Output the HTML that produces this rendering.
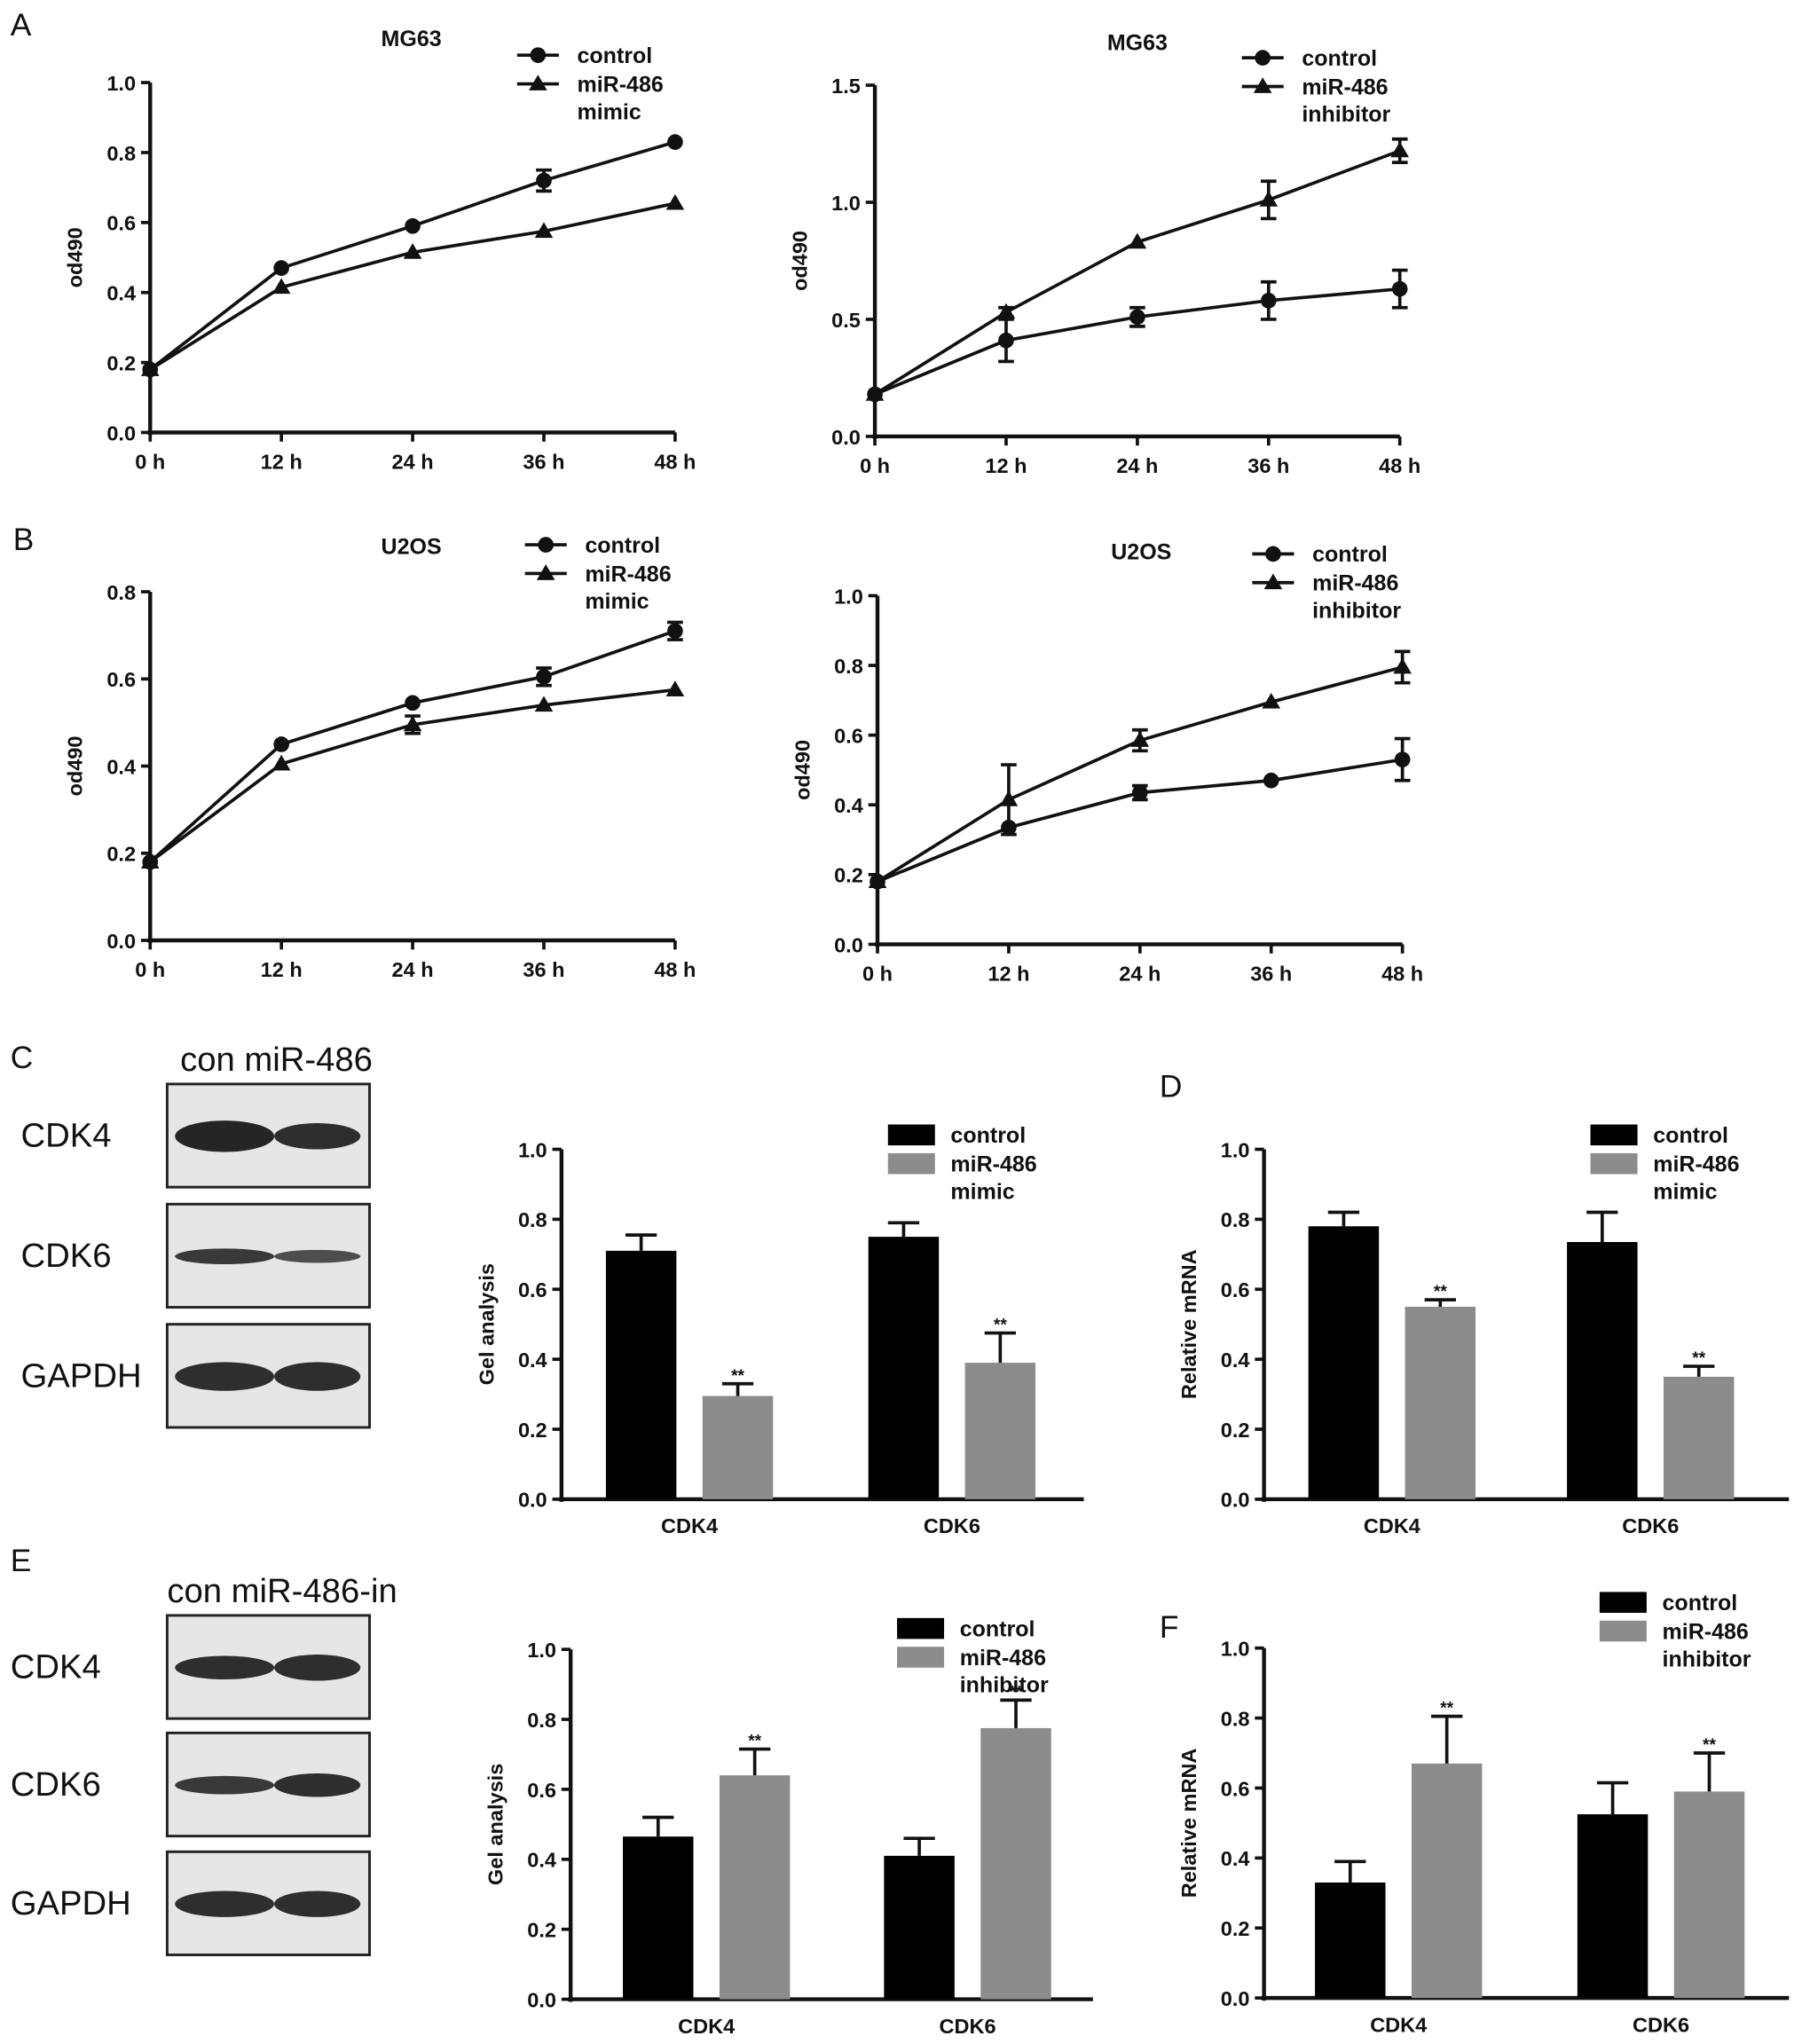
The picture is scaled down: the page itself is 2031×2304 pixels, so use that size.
<!DOCTYPE html>
<html><head><meta charset="utf-8"><style>
html,body{margin:0;padding:0;background:#fff;}
svg{display:block;font-family:"Liberation Sans",Arial,sans-serif;}
</style></head><body>
<svg id="fig" width="2031" height="2304" viewBox="0 0 1380 1565" xmlns="http://www.w3.org/2000/svg">
<rect width="1380" height="1565" fill="#fff"/>
</svg>
<script>
const timeLabels = ["0 h","12 h","24 h","36 h","48 h"];
const aLeftCtrl = [0.18,0.47,0.59,0.72,0.83];
const aLeftCtrlErr = [0.01,0.01,0.01,0.03,0.01];
const aLeftMimic = [0.18,0.415,0.515,0.575,0.655];
const aLeftMimicErr = [0.01,0.01,0.01,0.01,0.01];
const aRightCtrl = [0.18,0.41,0.51,0.58,0.63];
const aRightCtrlErr = [0.01,0.09,0.04,0.08,0.08];
const aRightInh = [0.18,0.53,0.83,1.01,1.22];
const aRightInhErr = [0.01,0.02,0.01,0.08,0.05];
const bLeftCtrl = [0.18,0.45,0.545,0.605,0.71];
const bLeftCtrlErr = [0.01,0.01,0.01,0.02,0.02];
const bLeftMimic = [0.18,0.405,0.495,0.54,0.575];
const bLeftMimicErr = [0.01,0.01,0.02,0.01,0.01];
const bRightCtrl = [0.18,0.335,0.435,0.47,0.53];
const bRightCtrlErr = [0.01,0.01,0.02,0.01,0.06];
const bRightInh = [0.18,0.415,0.585,0.695,0.795];
const bRightInhErr = [0.01,0.1,0.03,0.01,0.045];
const barCats = ["CDK4","CDK6"];
const cCtrl = [0.71,0.75], cCtrlErr=[0.045,0.04], cMimic=[0.295,0.39], cMimicErr=[0.035,0.085];
const dCtrl = [0.78,0.735], dCtrlErr=[0.04,0.085], dMimic=[0.55,0.35], dMimicErr=[0.02,0.03];
const eCtrl = [0.465,0.41], eCtrlErr=[0.055,0.05], eInh=[0.64,0.775], eInhErr=[0.075,0.08];
const fCtrl = [0.33,0.525], fCtrlErr=[0.06,0.09], fInh=[0.67,0.59], fInhErr=[0.135,0.11];

const svg=document.getElementById('fig');
const NS='http://www.w3.org/2000/svg';
function mk(tag,attrs,parent,name){const e=document.createElementNS(NS,tag);for(const k in attrs)e.setAttribute(k,attrs[k]);


(parent||svg).appendChild(e);return e;}
function txt(x,y,s,size,name,anchor,weight,parent,rot){const t=mk('text',{x:x,y:y,'font-size':size,'text-anchor':anchor||'start','font-weight':weight||'bold',fill:'#111'},parent,name);
if(rot)t.setAttribute('transform','rotate(-90 '+x+' '+y+')');t.textContent=s;return t;}

function axes(g,x0,y0,w,yTop,ymax,step,fmtDec,ylabel){
  const sy=v=>y0-(v/ymax)*(y0-yTop);
  mk('line',{x1:x0,y1:y0+2,x2:x0,y2:yTop,stroke:'#111','stroke-width':3},g,'y-axis-line');
  mk('line',{x1:x0-2,y1:y0,x2:x0+w,y2:y0,stroke:'#111','stroke-width':3},g,'x-axis-line');
  for(let v=0;v<=ymax+1e-9;v+=step){const y=sy(v);
    mk('line',{x1:x0-7,y1:y,x2:x0,y2:y,stroke:'#111','stroke-width':2.5},g,'y-tick');
    txt(x0-11,y+6,v.toFixed(fmtDec),16,'y-tick-label','end','bold',g);}
  txt(x0-52,(y0+yTop)/2,ylabel,16,'y-axis-title','middle','bold',g,true);
  return sy;
}
function legend(g,x,y,labels,kind){
  labels.forEach((l,i)=>{
    const yy=y+(i===0?0:22);
    if(kind==='line'){mk('line',{x1:x-16,y1:yy,x2:x+16,y2:yy,stroke:'#111','stroke-width':2.5},g,'legend-line');
      if(i===0)mk('circle',{cx:x,cy:yy,r:6,fill:'#111'},g,'legend-marker');
      else mk('polygon',{points:(x-7)+','+(yy+5)+' '+(x+7)+','+(yy+5)+' '+x+','+(yy-7),fill:'#111'},g,'legend-marker');}
    else mk('rect',{x:x-18,y:yy-8,width:36,height:16,fill:i===0?'#000':'#8c8c8c'},g,'legend-swatch');
    l.split('\n').forEach((s,j)=>txt(x+30,yy+6+j*21,s,17,'legend-label','start','bold',g));
  });
}
function lineChart(name,x0,y0,w,yTop,ymax,step,s1,e1,s2,e2,title,tx,ty,lx,ly,lab2){
  const g=mk('g',{},svg,name);
  const sy=axes(g,x0,y0,w,yTop,ymax,step,1,'od490');
  const sx=i=>x0+i*(w/4);
  timeLabels.forEach((l,i)=>{mk('line',{x1:sx(i),y1:y0,x2:sx(i),y2:y0+7,stroke:'#111','stroke-width':2.5},g,'x-tick');
    txt(sx(i),y0+28,l,16,'x-tick-label','middle','bold',g);});
  [[s1,e1,'control'],[s2,e2,'treated']].forEach(([s,e,n],k)=>{
    mk('polyline',{points:s.map((v,i)=>sx(i)+','+sy(v)).join(' '),fill:'none',stroke:'#111','stroke-width':2.5},g,n+'-line');
    s.forEach((v,i)=>{const x=sx(i),y=sy(v);
      if(e[i]>0.012){mk('line',{x1:x,y1:sy(v-e[i]),x2:x,y2:sy(v+e[i]),stroke:'#111','stroke-width':2.5},g,n+'-errorbar');
        [v-e[i],v+e[i]].forEach(q=>mk('line',{x1:x-6,y1:sy(q),x2:x+6,y2:sy(q),stroke:'#111','stroke-width':2.5},g,n+'-errorcap'));}
      if(k===0)mk('circle',{cx:x,cy:y,r:6,fill:'#111'},g,n+'-point');
      else mk('polygon',{points:(x-7)+','+(y+5)+' '+(x+7)+','+(y+5)+' '+x+','+(y-7),fill:'#111'},g,n+'-point');});
  });
  txt(tx,ty,title,17,'chart-title','middle','bold',g);
  legend(g,lx,ly,['control','miR-486\n'+lab2],'line');
}
lineChart('chart-a-left',115,331,402,63,1.0,0.2,aLeftCtrl,aLeftCtrlErr,aLeftMimic,aLeftMimicErr,'MG63',315,35,412,42,'mimic');
lineChart('chart-a-right',670,334,402,65,1.5,0.5,aRightCtrl,aRightCtrlErr,aRightInh,aRightInhErr,'MG63',871,38,967,44,'inhibitor');
lineChart('chart-b-left',115,720,402,453,0.8,0.2,bLeftCtrl,bLeftCtrlErr,bLeftMimic,bLeftMimicErr,'U2OS',315,424,418,417,'mimic');
lineChart('chart-b-right',672,723,402,456,1.0,0.2,bRightCtrl,bRightCtrlErr,bRightInh,bRightInhErr,'U2OS',874,428,975,424,'inhibitor');

function barChart(name,x0,y0,w,yTop,c,ce,t,te,ylabel,lx,ly,lab2,gx){
  const g=mk('g',{},svg,name);
  const sy=axes(g,x0,y0,w,yTop,1.0,0.2,1,ylabel);
  const bw=54;
  barCats.forEach((cat,i)=>{
    const cx=x0+gx[i];
    txt(cx+bw/2+10,y0+26,cat,16,'x-category-label','middle','bold',g);
    [[c,ce,cx-bw+8,'#000','control'],[t,te,cx+bw/2+10+ (bw/2)-8- bw/2 +1,'#8c8c8c','treated']].forEach(([s,e,bx,col,n])=>{
      const x=n==='control'?cx-bw/2+ -0:cx+bw/2+20;
      mk('rect',{x:x,y:sy(s[i]),width:bw,height:y0-sy(s[i]),fill:col},g,n+'-bar-'+cat.toLowerCase());
      const mx=x+bw/2;
      mk('line',{x1:mx,y1:sy(s[i]),x2:mx,y2:sy(s[i]+e[i]),stroke:'#111','stroke-width':2.5},g,n+'-errorbar');
      mk('line',{x1:mx-12,y1:sy(s[i]+e[i]),x2:mx+12,y2:sy(s[i]+e[i]),stroke:'#111','stroke-width':2.5},g,n+'-errorcap');
      if(n==='treated')txt(mx,sy(s[i]+e[i])-2,'**',13,'significance-mark','middle','bold',g);
    });
  });
  legend(g,lx,ly,['control','miR-486\n'+lab2],'bar');
}
barChart('chart-c-bars',430,1148,400,880,cCtrl,cCtrlErr,cMimic,cMimicErr,'Gel analysis',698,869,'mimic',[61,262]);
barChart('chart-d-bars',968,1148,402,880,dCtrl,dCtrlErr,dMimic,dMimicErr,'Relative mRNA',1236,869,'mimic',[61,259]);
barChart('chart-e-bars',437,1531,400,1263,eCtrl,eCtrlErr,eInh,eInhErr,'Gel analysis',705,1247,'inhibitor',[67,267]);
barChart('chart-f-bars',968,1530,402,1262,fCtrl,fCtrlErr,fInh,fInhErr,'Relative mRNA',1243,1227,'inhibitor',[66,267]);

function blots(name,top,label,rows,bands){
  const g=mk('g',{},svg,name);
  txt(label[1],top-10,label[0],26,'blot-header','start','normal',g);
  rows.forEach((r,i)=>{const y=r;
    mk('rect',{x:128,y:y,width:155,height:79,fill:'#e6e6e6',stroke:'#222','stroke-width':2},g,'blot-box-'+bands[i][0].toLowerCase());
    txt(label[2],y+48,bands[i][0],26,'blot-label','start','normal',g);
    const [,h1,h2,op1,op2]=bands[i];
    mk('ellipse',{cx:172,cy:y+40,rx:38,ry:h1,fill:'#1a1a1a',opacity:op1},g,'band-con');
    mk('ellipse',{cx:243,cy:y+40,rx:33,ry:h2,fill:'#1a1a1a',opacity:op2},g,'band-mir');
  });
}
blots('blot-c',830,['con miR-486',138,16],[830,922,1014],[['CDK4',12,10,0.95,0.9],['CDK6',6,5,0.85,0.75],['GAPDH',11,11,0.9,0.9]]);
blots('blot-e',1237,['con miR-486-in',128,8],[1237,1327,1418],[['CDK4',9,10,0.9,0.9],['CDK6',7,9,0.85,0.9],['GAPDH',10,10,0.9,0.9]]);

[['A',8,27],['B',10,421],['C',8,818],['D',888,840],['E',8,1203],['F',888,1254]].forEach(([l,x,y])=>txt(x,y,l,24,'panel-letter-'+l.toLowerCase(),'start','normal'));
</script>
</body></html>
